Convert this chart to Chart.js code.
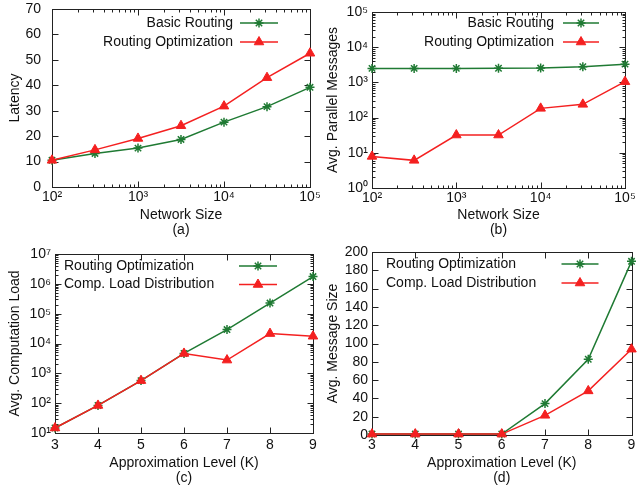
<!DOCTYPE html>
<html>
<head>
<meta charset="utf-8">
<script src="https://cdn.jsdelivr.net/npm/chart.js@4/dist/chart.umd.min.js"></script>
<style>
  body { margin: 0; background: #fff; width: 638px; height: 490px; position: relative; overflow: hidden; }
  canvas { position: absolute; }
</style>
</head>
<body>
<canvas id="chartA" style="left:0;top:0" width="330" height="245"></canvas>
<canvas id="chartB" style="left:318px;top:0" width="320" height="245"></canvas>
<canvas id="chartC" style="left:0;top:245px" width="330" height="245"></canvas>
<canvas id="chartD" style="left:318px;top:245px" width="320" height="245"></canvas>
<script>
// values
const networkSizes = [100, 316, 1000, 3162, 10000, 31623, 100000];
const latencyBasic = [10.5, 13.2, 15.3, 18.7, 25.5, 31.6, 39.2];
const latencyOpt = [10.5, 14.6, 19.1, 24.1, 31.8, 43.0, 52.6];
const parallelBasic = [2500, 2500, 2500, 2520, 2560, 2780, 3300];
const parallelOpt = [7.9, 6.1, 32, 32, 183, 238, 1050];

const levels = [3, 4, 5, 6, 7, 8, 9];
const compOpt = [14.7, 84, 570, 4640, 29300, 227000, 1750000];
const compDist = [14.7, 84, 570, 4640, 2780, 21500, 17500];
const msgOpt = [1, 1, 1, 1, 34.3, 82.8, 189.8];
const msgDist = [1, 1, 1, 1, 21.5, 48.2, 93.8];

// tick values and labels
const sizeTicks = [100, 1000, 10000, 100000];
const sizeTickLabels = ['10²', '10³', '10⁴', '10⁵'];
const latencyTicks = [0, 10, 20, 30, 40, 50, 60, 70];
const parallelTicks = [1, 10, 100, 1000, 10000, 100000];
const parallelTickLabels = ['10⁰', '10¹', '10²', '10³', '10⁴', '10⁵'];
const levelTicks = [3, 4, 5, 6, 7, 8, 9];
const compTicks = [10, 100, 1000, 10000, 100000, 1000000, 10000000];
const compTickLabels = ['10¹', '10²', '10³', '10⁴', '10⁵', '10⁶', '10⁷'];
const msgTicks = [0, 20, 40, 60, 80, 100, 120, 140, 160, 180, 200];

const GREEN = '#1f7a33';
const RED = '#f42020';
const FONT = '"Liberation Sans", Arial, Helvetica, sans-serif';

Chart.defaults.font.family = FONT;
Chart.defaults.font.size = 14;
Chart.defaults.color = '#111';

// frame + inward tick marks like gnuplot
const boxTicks = {
  id: 'boxTicks',
  beforeDatasetsDraw(chart) {
    const { ctx, chartArea: a } = chart;
    const L = Math.round(a.left) + 0.5, R = Math.round(a.right) + 0.5;
    const T = Math.round(a.top) + 0.5, B = Math.round(a.bottom) + 0.5;
    ctx.save();
    ctx.strokeStyle = '#222';
    ctx.lineWidth = 1;
    ctx.strokeRect(L, T, R - L, B - T);
    const marks = (scale) => {
      const out = scale.ticks.map((t) => ({ v: t.value, major: true }));
      if (scale.type === 'logarithmic') {
        scale.ticks.slice(0, -1).forEach((t) => {
          for (let k = 2; k <= 9; k++) out.push({ v: t.value * k, major: false });
        });
      }
      return out;
    };
    ctx.beginPath();
    marks(chart.scales.x).forEach((m) => {
      const px = Math.round(chart.scales.x.getPixelForValue(m.v)) + 0.5;
      const len = m.major ? 6 : 3;
      ctx.moveTo(px, B); ctx.lineTo(px, B - len);
      ctx.moveTo(px, T); ctx.lineTo(px, T + len);
    });
    marks(chart.scales.y).forEach((m) => {
      const py = Math.round(chart.scales.y.getPixelForValue(m.v)) + 0.5;
      const len = m.major ? 6 : 3;
      ctx.moveTo(L, py); ctx.lineTo(L + len, py);
      ctx.moveTo(R, py); ctx.lineTo(R - len, py);
    });
    ctx.stroke();
    ctx.restore();
  },
};

// legend drawn inside the plot area
const insideLegend = {
  id: 'insideLegend',
  afterDatasetsDraw(chart, args, opts) {
    const { ctx, chartArea: a } = chart;
    ctx.save();
    ctx.font = '14px ' + FONT;
    ctx.textBaseline = 'middle';
    chart.data.datasets.forEach((ds, i) => {
      const y = a.top + opts.top + i * opts.gap;
      ctx.fillStyle = '#111';
      if (opts.align === 'left') {
        ctx.textAlign = 'left';
        ctx.fillText(ds.label, a.left + opts.textX, y);
      } else {
        ctx.textAlign = 'right';
        ctx.fillText(ds.label, a.right - opts.textX, y);
      }
      const x0 = a.right - opts.lineFrom;
      const x1 = a.right - opts.lineTo;
      ctx.strokeStyle = ds.borderColor;
      ctx.fillStyle = ds.backgroundColor;
      ctx.lineWidth = ds.borderWidth;
      ctx.beginPath();
      ctx.moveTo(x0, y);
      ctx.lineTo(x1, y);
      ctx.stroke();
      ctx.lineWidth = ds.pointBorderWidth;
      Chart.helpers.drawPoint(ctx, { pointStyle: ds.pointStyle, radius: ds.pointRadius, borderWidth: ds.pointBorderWidth, rotation: 0 }, (x0 + x1) / 2, y);
    });
    ctx.restore();
  },
};

const starSeries = (label, data) => ({
  label, data, borderColor: GREEN, backgroundColor: GREEN, borderWidth: 1.5,
  pointStyle: 'star', pointRadius: 4.5, pointBorderWidth: 1.5, order: 1, clip: false,
});
const triSeries = (label, data) => ({
  label, data, borderColor: RED, backgroundColor: RED, borderWidth: 1.5,
  pointStyle: 'triangle', pointRadius: 5.5, pointBorderWidth: 1, order: 0, clip: false,
});

function makePanel(id, p) {
  return new Chart(document.getElementById(id), {
    type: 'line',
    data: { labels: p.xs, datasets: p.datasets },
    options: {
      responsive: false,
      animation: false,
      layout: { padding: p.padding },
      plugins: { legend: { display: false }, tooltip: { enabled: false }, insideLegend: p.legend },
      scales: {
        x: {
          type: p.xType, min: p.xTicks[0], max: p.xTicks[p.xTicks.length - 1],
          grid: { display: false, drawTicks: false }, border: { display: false },
          afterBuildTicks: (s) => { s.ticks = p.xTicks.map((v) => ({ value: v })); },
          afterFit: (s) => { s.height = p.xHeight; s.paddingLeft = 0; s.paddingRight = 0; },
          ticks: { padding: p.xPad, maxRotation: 0, autoSkip: false, callback: (v, i) => p.xLabels[i] },
          title: { display: true, text: p.xTitle, font: { size: 14, lineHeight: 1.1 }, padding: { top: 0, bottom: p.xTitleBottom } },
        },
        y: {
          type: p.yType, min: p.yTicks[0], max: p.yTicks[p.yTicks.length - 1],
          grid: { display: false, drawTicks: false }, border: { display: false },
          afterBuildTicks: (s) => { s.ticks = p.yTicks.map((v) => ({ value: v })); },
          afterFit: (s) => { s.width = p.yWidth; s.paddingTop = 0; s.paddingBottom = 0; },
          ticks: { padding: p.yPad, autoSkip: false, font: { lineHeight: 1 }, callback: (v, i) => p.yLabels[i] },
          title: { display: true, text: p.yTitle, font: { size: 14, lineHeight: 1.1 }, padding: { top: 7, bottom: 0 } },
        },
      },
    },
    plugins: [boxTicks, insideLegend],
  });
}

makePanel('chartA', {
  xs: networkSizes, xType: 'logarithmic', yType: 'linear',
  datasets: [starSeries('Basic Routing', latencyBasic), triSeries('Routing Optimization', latencyOpt)],
  xTicks: sizeTicks, xLabels: sizeTickLabels, yTicks: latencyTicks, yLabels: latencyTicks.map(String),
  xTitle: ['Network Size', '(a)'], yTitle: 'Latency',
  padding: { left: 0, right: 20, top: 9, bottom: 0 }, yWidth: 52, xHeight: 58, xPad: 2, yPad: 11, xTitleBottom: 7,
  legend: { align: 'right', textX: 77, lineFrom: 70, lineTo: 32, top: 14, gap: 19 },
});

makePanel('chartB', {
  xs: networkSizes, xType: 'logarithmic', yType: 'logarithmic',
  datasets: [starSeries('Basic Routing', parallelBasic), triSeries('Routing Optimization', parallelOpt)],
  xTicks: sizeTicks, xLabels: sizeTickLabels, yTicks: parallelTicks, yLabels: parallelTickLabels,
  xTitle: ['Network Size', '(b)'], yTitle: 'Avg. Parallel Messages',
  padding: { left: 0, right: 13, top: 12, bottom: 0 }, yWidth: 54, xHeight: 57, xPad: 2, yPad: 4, xTitleBottom: 7,
  legend: { align: 'right', textX: 71, lineFrom: 62, lineTo: 26, top: 11, gap: 19 },
});

makePanel('chartC', {
  xs: levels, xType: 'linear', yType: 'logarithmic',
  datasets: [starSeries('Routing Optimization', compOpt), triSeries('Comp. Load Distribution', compDist)],
  xTicks: levelTicks, xLabels: levelTicks.map(String), yTicks: compTicks, yLabels: compTickLabels,
  xTitle: ['Approximation Level (K)', '(c)'], yTitle: 'Avg. Computation Load',
  padding: { left: 0, right: 17, top: 9, bottom: 0 }, yWidth: 55, xHeight: 57, xPad: 4, yPad: 4, xTitleBottom: 4,
  legend: { align: 'left', textX: 9, lineFrom: 74, lineTo: 36, top: 12, gap: 18.5 },
});

makePanel('chartD', {
  xs: levels, xType: 'linear', yType: 'linear',
  datasets: [starSeries('Routing Optimization', msgOpt), triSeries('Comp. Load Distribution', msgDist)],
  xTicks: levelTicks, xLabels: levelTicks.map(String), yTicks: msgTicks, yLabels: msgTicks.map(String),
  xTitle: ['Approximation Level (K)', '(d)'], yTitle: 'Avg. Message Size',
  padding: { left: 0, right: 5, top: 7, bottom: 0 }, yWidth: 54, xHeight: 55, xPad: 2, yPad: 4, xTitleBottom: 4,
  legend: { align: 'left', textX: 14, lineFrom: 70, lineTo: 33, top: 12, gap: 19 },
});
</script>
</body>
</html>
